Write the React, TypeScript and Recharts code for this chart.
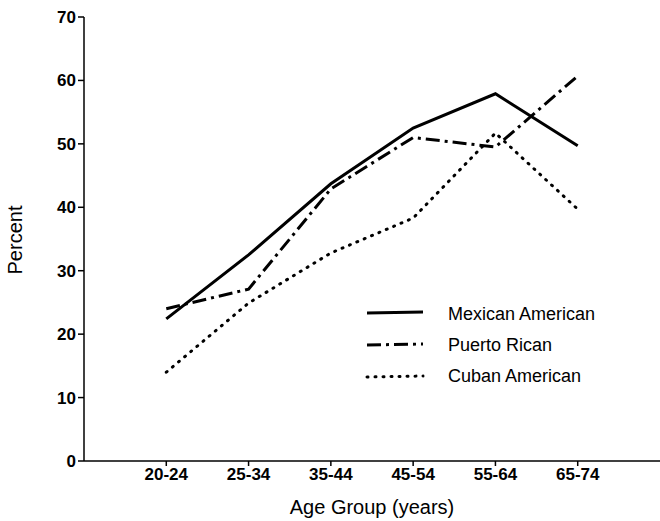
import React from 'react'
import { LineChart, Line, XAxis, YAxis } from 'recharts'

// age groups and percentages
const AGE_GROUPS = ['20-24', '25-34', '35-44', '45-54', '55-64', '65-74']
const MEXICAN_AMERICAN = [22.4, 32.5, 43.7, 52.5, 57.9, 49.7]
const PUERTO_RICAN = [24.0, 27.1, 42.9, 51.0, 49.5, 60.7]
const CUBAN_AMERICAN = [14.0, 24.9, 32.8, 38.3, 51.7, 39.7]
const Y_TICKS = [0, 10, 20, 30, 40, 50, 60, 70]

const FONT = '"Liberation Sans", Arial, sans-serif'

const SERIES = [
    { key: 'mexican', name: 'Mexican American', dash: undefined, cap: 'butt' },
    { key: 'puerto', name: 'Puerto Rican', dash: '14 5 3 5', cap: 'butt' },
    { key: 'cuban', name: 'Cuban American', dash: '1 7', cap: 'round' },
]

const data = AGE_GROUPS.map((label, i) => ({
    x: i + 1,
    label,
    mexican: MEXICAN_AMERICAN[i],
    puerto: PUERTO_RICAN[i],
    cuban: CUBAN_AMERICAN[i],
}))

// legend drawn as an overlay so it does not push the plot area around
function LegendBox() {
    return (
        <svg width={290} height={100} style={{ position: 'absolute', left: 365, top: 300 }}>
            {SERIES.map((s, i) => (
                <g key={s.key}>
                    <line
                        x1={2} x2={58}
                        y1={13 + i * 32} y2={12 + i * 32}
                        stroke="#000"
                        strokeWidth={3}
                        strokeDasharray={s.dash}
                        strokeLinecap={s.cap as any}
                    />
                    <text x={83} y={20 + i * 31} fontSize={18} fontFamily={FONT} fill="#000">
                        {s.name}
                    </text>
                </g>
            ))}
        </svg>
    )
}

export default function App() {
    return (
        <div style={{ position: 'absolute', left: 0, top: 0, width: 660, height: 521, background: '#fff' }}>
            <LineChart
                width={660}
                height={521}
                data={data}
                margin={{ top: 17, right: 0, left: 0, bottom: 30 }}
            >
                <XAxis
                    dataKey="x"
                    type="number"
                    domain={[0, 7]}
                    ticks={[1, 2, 3, 4, 5, 6]}
                    tickFormatter={(v: number) => AGE_GROUPS[v - 1]}
                    height={30}
                    stroke="#000"
                    strokeWidth={1.5}
                    tickSize={5}
                    tick={{ fontSize: 17, fontWeight: 'bold', fill: '#000', fontFamily: FONT }}
                    label={{ value: 'Age Group (years)', position: 'insideBottom', offset: -23, fontSize: 20, fill: '#000', fontFamily: FONT }}
                />
                <YAxis
                    width={84}
                    domain={[0, 70]}
                    ticks={Y_TICKS}
                    stroke="#000"
                    strokeWidth={1.5}
                    tickSize={6}
                    tick={{ fontSize: 17, fontWeight: 'bold', fill: '#000', fontFamily: FONT }}
                    label={{
                        value: 'Percent',
                        content: () => (
                            <text
                                x={22}
                                y={240}
                                transform="rotate(-90 22 240)"
                                textAnchor="middle"
                                fontSize={20}
                                fontFamily={FONT}
                                fill="#000"
                            >
                                Percent
                            </text>
                        ),
                    }}
                />
                {SERIES.map((s) => (
                    <Line
                        key={s.key}
                        dataKey={s.key}
                        name={s.name}
                        type="linear"
                        stroke="#000"
                        strokeWidth={3}
                        strokeDasharray={s.dash}
                        strokeLinecap={s.cap as any}
                        dot={false}
                        activeDot={false}
                        isAnimationActive={false}
                    />
                ))}
            </LineChart>
            <LegendBox />
        </div>
    )
}
